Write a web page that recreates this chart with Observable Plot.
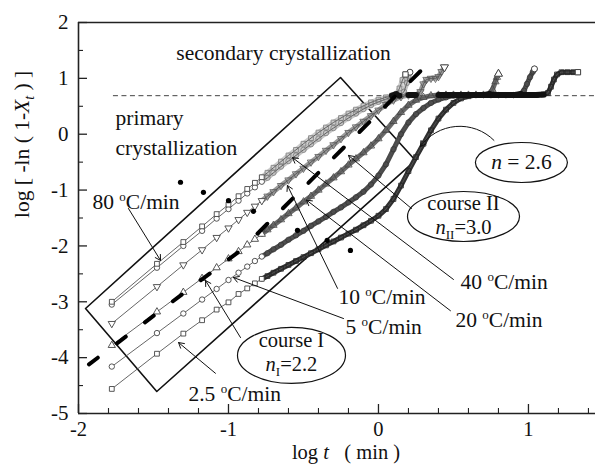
<!DOCTYPE html>
<html>
<head>
<meta charset="utf-8">
<script src="https://cdn.jsdelivr.net/npm/d3@7"></script>
<script src="https://cdn.jsdelivr.net/npm/@observablehq/plot@0.6"></script>
<style>
  body { margin: 0; background: #fff; }
  #chart svg { display: block; }
</style>
</head>
<body>
<div id="chart"></div>
<script>
// Avrami plots, log[-ln(1-Xt)] versus log t, one series per cooling rate (°C/min)
const rates = ["2.5", "5", "10", "20", "40", "80"];

const s2_5 = [[-1.778,-4.56],[-1.477,-3.93],[-1.301,-3.57],[-1.176,-3.33],[-1.079,-3.14],[-1.0,-3.01],[-0.933,-2.86],[-0.875,-2.76],[-0.824,-2.67],[-0.778,-2.59],
  [-0.74,-2.54],[-0.70,-2.48],[-0.65,-2.41],[-0.60,-2.34],[-0.55,-2.27],[-0.50,-2.20],[-0.45,-2.13],[-0.40,-2.06],[-0.35,-1.99],[-0.30,-1.92],[-0.25,-1.85],[-0.20,-1.78],[-0.15,-1.71],[-0.10,-1.63],[-0.05,-1.55],[0.0,-1.46],
  [0.05,-1.34],[0.10,-1.16],[0.15,-0.92],[0.20,-0.66],[0.25,-0.41],[0.30,-0.17],[0.35,0.07],[0.40,0.28],[0.45,0.44],[0.50,0.56],[0.55,0.64],[0.60,0.68],
  [0.65,0.70],[0.70,0.70],[0.75,0.70],[0.80,0.70],[0.85,0.70],[0.90,0.70],[0.95,0.70],[1.00,0.70],[1.05,0.70],[1.10,0.71],
  [1.13,0.74],[1.15,0.85],[1.17,0.98],[1.19,1.07],[1.22,1.11],[1.26,1.11],[1.30,1.11],[1.33,1.11]];

const s5 = [[-1.778,-4.16],[-1.477,-3.56],[-1.301,-3.21],[-1.176,-2.96],[-1.079,-2.77],[-1.0,-2.61],[-0.933,-2.48],[-0.875,-2.37],[-0.824,-2.27],[-0.778,-2.19],
  [-0.74,-2.13],[-0.70,-2.06],[-0.65,-1.98],[-0.60,-1.89],[-0.55,-1.81],[-0.50,-1.73],[-0.45,-1.64],[-0.40,-1.56],[-0.35,-1.48],[-0.30,-1.39],[-0.25,-1.31],[-0.20,-1.22],[-0.15,-1.13],[-0.10,-1.03],[-0.05,-0.90],
  [0.0,-0.74],[0.05,-0.54],[0.10,-0.27],[0.15,0.0],[0.20,0.21],[0.25,0.36],[0.30,0.47],[0.35,0.56],[0.40,0.62],[0.45,0.66],[0.50,0.69],
  [0.55,0.70],[0.60,0.70],[0.65,0.70],[0.70,0.70],[0.75,0.70],[0.80,0.70],[0.85,0.70],[0.90,0.70],[0.95,0.72],[0.97,0.78],[0.99,0.90],[1.01,1.02],[1.03,1.12],[1.04,1.17]];

const s10 = [[-1.778,-3.78],[-1.477,-3.18],[-1.301,-2.83],[-1.176,-2.58],[-1.079,-2.39],[-1.0,-2.23],[-0.933,-2.10],[-0.875,-1.98],[-0.824,-1.88],[-0.778,-1.79],
  [-0.74,-1.71],[-0.70,-1.63],[-0.65,-1.53],[-0.60,-1.42],[-0.55,-1.32],[-0.50,-1.21],[-0.45,-1.11],[-0.40,-1.00],[-0.35,-0.89],[-0.30,-0.78],[-0.25,-0.67],[-0.20,-0.55],[-0.15,-0.44],[-0.10,-0.33],[-0.05,-0.21],
  [0.0,-0.08],[0.05,0.07],[0.10,0.23],[0.15,0.39],[0.20,0.52],[0.25,0.61],[0.30,0.66],[0.35,0.69],
  [0.40,0.70],[0.45,0.70],[0.50,0.70],[0.55,0.70],[0.60,0.70],[0.65,0.70],[0.70,0.70],[0.74,0.72],[0.76,0.80],[0.78,0.94],[0.79,1.02],[0.80,1.08]];

const s20 = [[-1.778,-3.39],[-1.477,-2.73],[-1.301,-2.34],[-1.176,-2.07],[-1.079,-1.85],[-1.0,-1.68],[-0.933,-1.53],[-0.875,-1.40],[-0.824,-1.29],[-0.778,-1.19],
  [-0.74,-1.11],[-0.70,-1.03],[-0.65,-0.92],[-0.60,-0.82],[-0.55,-0.71],[-0.50,-0.61],[-0.45,-0.50],[-0.40,-0.40],[-0.35,-0.29],[-0.30,-0.19],[-0.25,-0.08],[-0.20,0.03],[-0.15,0.13],[-0.10,0.23],[-0.05,0.33],
  [0.0,0.43],[0.05,0.53],[0.10,0.61],[0.15,0.67],[0.20,0.70],[0.25,0.70],[0.28,0.76],[0.30,0.90],[0.32,0.98],[0.35,1.0],[0.38,1.0],[0.40,1.03],[0.42,1.12],[0.44,1.2]];

const s40 = [[-1.778,-3.05],[-1.477,-2.39],[-1.301,-2.00],[-1.176,-1.73],[-1.079,-1.51],[-1.0,-1.34],[-0.933,-1.19],[-0.875,-1.06],[-0.824,-0.95],[-0.778,-0.85],
  [-0.74,-0.78],[-0.70,-0.69],[-0.65,-0.58],[-0.60,-0.48],[-0.55,-0.38],[-0.50,-0.28],[-0.45,-0.18],[-0.40,-0.08],[-0.35,0.02],[-0.30,0.11],[-0.25,0.20],[-0.20,0.29],[-0.15,0.37],[-0.10,0.45],[-0.05,0.52],
  [0.0,0.58],[0.05,0.63],[0.10,0.67],[0.14,0.69],[0.17,0.76],[0.19,0.92],[0.20,1.04],[0.21,1.11]];

const s80 = [[-1.778,-3.0],[-1.477,-2.32],[-1.301,-1.93],[-1.176,-1.65],[-1.079,-1.43],[-1.0,-1.26],[-0.933,-1.11],[-0.875,-0.98],[-0.824,-0.87],[-0.778,-0.77],
  [-0.74,-0.69],[-0.70,-0.60],[-0.65,-0.49],[-0.60,-0.38],[-0.55,-0.28],[-0.50,-0.17],[-0.45,-0.07],[-0.40,0.03],[-0.35,0.12],[-0.30,0.21],[-0.25,0.29],[-0.20,0.37],[-0.15,0.44],[-0.10,0.51],[-0.05,0.57],
  [0.0,0.62],[0.05,0.66],[0.09,0.69],[0.12,0.72],[0.14,0.82],[0.16,0.97],[0.18,1.07]];

// log t where each run reaches the end-of-primary plateau
const plateauFrom = [0.62, 0.52, 0.37, 0.18, 0.12, 0.08];

// Avrami fit lines: course I (n = 2.2) and the n = 2.6 line
const fitCourseI = [[-1.93,-4.12],[-0.88,-2.0]];
const fitN26 = [[-0.807,-1.78],[0.37,1.37]];
// isolated points where the fitted ranges begin
const fitStarts = [[-1.32,-0.86],[-1.167,-1.04],[-1.0,-1.19],[-0.833,-1.38],[-0.54,-1.72],[-0.342,-1.90],[-0.187,-2.08]];

// axis ticks
const xMajor = [-2, -1, 0, 1];
const xMinor = [-1.8,-1.6,-1.4,-1.2,-0.8,-0.6,-0.4,-0.2,0.2,0.4,0.6,0.8,1.2,1.4];
const yMajor = [-5, -4, -3, -2, -1, 0, 1, 2];
const yMinor = [-4.5,-3.5,-2.5,-1.5,-0.5,0.5,1.5];
const plateauLevel = 0.69;

// custom symbols
const sqrt3 = Math.sqrt(3);
const triangleDown = {
  draw(c, size) {
    const y = -Math.sqrt(size / (sqrt3 * 3));
    c.moveTo(0, -y * 2);
    c.lineTo(-sqrt3 * y, y);
    c.lineTo(sqrt3 * y, y);
    c.closePath();
  }
};
function ellipse(rx, ry) {
  const k = 0.5523;
  return {
    draw(c) {
      c.moveTo(rx, 0);
      c.bezierCurveTo(rx, ry * k, rx * k, ry, 0, ry);
      c.bezierCurveTo(-rx * k, ry, -rx, ry * k, -rx, 0);
      c.bezierCurveTo(-rx, -ry * k, -rx * k, -ry, 0, -ry);
      c.bezierCurveTo(rx * k, -ry, rx, -ry * k, rx, 0);
      c.closePath();
    }
  };
}

const seriesData = [s2_5, s5, s10, s20, s40, s80];
const symbols = ["square", "circle", "triangle", triangleDown, "circle", "square"];
const bandColors = ["#303030", "#4a4a4a", "#6a6a6a", "#9a9a9a", "#c4c4c4", "#cccccc"];
const chainColors = ["#222", "#333", "#444", "#555", "#777", "#777"];

// pixel → data unit conversions for tick lengths
const pxX = 3.447 / 517, pxY = 7 / 391;
const serif = "Liberation Serif, Times New Roman, serif";

const marks = [];

// frame
marks.push(Plot.ruleY([2], {stroke: "#222", strokeWidth: 1.6}));
marks.push(Plot.ruleY([-5], {stroke: "#222", strokeWidth: 1.6}));
marks.push(Plot.ruleX([-2], {stroke: "#222", strokeWidth: 1.6}));

// inward ticks
marks.push(Plot.ruleX(xMajor, {x: d => d, y1: -5, y2: -5 + 9 * pxY, stroke: "#222", strokeWidth: 1.3}));
marks.push(Plot.ruleX(xMinor, {x: d => d, y1: -5, y2: -5 + 5 * pxY, stroke: "#222", strokeWidth: 1.1}));
marks.push(Plot.ruleY(yMajor, {y: d => d, x1: -2, x2: -2 + 9 * pxX, stroke: "#222", strokeWidth: 1.3}));
marks.push(Plot.ruleY(yMinor, {y: d => d, x1: -2, x2: -2 + 5 * pxX, stroke: "#222", strokeWidth: 1.1}));

// tick labels
marks.push(Plot.text(xMajor, {x: d => d, y: -5, dy: 16, text: d => String(d), fontSize: 20.5, fontFamily: serif, fill: "#111"}));
marks.push(Plot.text(yMajor, {x: -2, y: d => d, dx: -10, text: d => String(d), textAnchor: "end", fontSize: 21, fontFamily: serif, fill: "#111"}));

// plateau reference (dashed)
marks.push(Plot.ruleY([plateauLevel], {x1: -1.767, x2: 1.447, stroke: "#444", strokeWidth: 1, strokeDasharray: "5,3.5"}));

// crystallization-course box
marks.push(Plot.line([[-1.953,-3.12],[-1.478,-4.606],[0.247,-0.47],[-0.253,1.015],[-1.953,-3.12]],
  {x: "0", y: "1", stroke: "#111", strokeWidth: 1.6}));

// dense-region bands
seriesData.forEach((pts, i) => {
  marks.push(Plot.line(pts.filter(p => p[0] >= -0.79), {x: "0", y: "1", stroke: bandColors[i], strokeWidth: 5}));
});
// connecting lines
seriesData.forEach(pts => {
  marks.push(Plot.line(pts, {x: "0", y: "1", stroke: "#555", strokeWidth: 0.9}));
});
// markers
seriesData.forEach((pts, i) => {
  marks.push(Plot.dot(pts.filter(p => p[0] < -0.76), {x: "0", y: "1", symbol: symbols[i], r: 2.7, stroke: "#444", fill: "white", strokeWidth: 0.9}));
  marks.push(Plot.dot(pts.filter(p => p[0] >= -0.76), {x: "0", y: "1", symbol: symbols[i], r: 2.7, stroke: chainColors[i], fill: "none", strokeWidth: 0.8}));
});
// plateau sections
seriesData.forEach((pts, i) => {
  marks.push(Plot.line(pts.filter(p => p[0] >= plateauFrom[i] && p[1] <= 0.72), {x: "0", y: "1", stroke: "#111", strokeWidth: 6}));
});
// end markers
seriesData.forEach((pts, i) => {
  marks.push(Plot.dot([pts[pts.length - 1]], {x: "0", y: "1", symbol: symbols[i], r: 3, stroke: "#444", fill: "white", strokeWidth: 1}));
});

// Avrami fit lines and their start points
marks.push(Plot.line(fitCourseI, {x: "0", y: "1", stroke: "#000", strokeWidth: 4, strokeDasharray: "11,24"}));
marks.push(Plot.line(fitN26, {x: "0", y: "1", stroke: "#000", strokeWidth: 4, strokeDasharray: "14,22"}));
marks.push(Plot.dot(fitStarts, {x: "0", y: "1", r: 2.6, fill: "#000"}));

// annotation ellipses
marks.push(Plot.dot([0], {x: -0.58, y: -3.96, symbol: ellipse(54, 28), stroke: "#111", fill: "white", strokeWidth: 1.2}));
marks.push(Plot.dot([0], {x: 0.567, y: -1.473, symbol: ellipse(56, 25), stroke: "#111", fill: "white", strokeWidth: 1.2}));
marks.push(Plot.dot([0], {x: 0.953, y: -0.506, symbol: ellipse(46, 20), stroke: "#111", fill: "white", strokeWidth: 1.2}));

// label arrows
const arrowOpts = {stroke: "#111", strokeWidth: 1, headLength: 9, inset: 0};
marks.push(Plot.arrow([0], {x1: -1.667, y1: -1.33, x2: -1.453, y2: -2.26, ...arrowOpts}));
marks.push(Plot.arrow([0], {x1: -1.087, y1: -4.28, x2: -1.333, y2: -3.73, ...arrowOpts}));
marks.push(Plot.arrow([0], {x1: -0.92, y1: -3.64, x2: -1.153, y2: -2.62, ...arrowOpts}));
marks.push(Plot.arrow([0], {x1: -0.233, y1: -3.30, x2: -0.967, y2: -2.565, ...arrowOpts}));
marks.push(Plot.arrow([0], {x1: -0.273, y1: -2.76, x2: -0.607, y2: -0.918, ...arrowOpts}));
marks.push(Plot.arrow([0], {x1: 0.48, y1: -3.16, x2: -0.48, y2: -1.18, ...arrowOpts}));
marks.push(Plot.arrow([0], {x1: 0.50, y1: -2.60, x2: -0.573, y2: -0.42, ...arrowOpts}));
marks.push(Plot.arrow([0], {x1: 0.22, y1: -1.33, x2: -0.2, y2: -0.38, ...arrowOpts}));
marks.push(Plot.arrow([0], {x1: 0.77, y1: -0.11, x2: 0.28, y2: -0.22, bend: -50, ...arrowOpts}));

// text
const txt = {fontFamily: serif, fontSize: 21.5, fill: "#111"};
const txtSmall = {fontFamily: serif, fontSize: 20.5, fill: "#111"};
marks.push(Plot.text(["secondary crystallization"], {x: -0.633, y: 1.445, text: d => d, ...txt}));
marks.push(Plot.text(["primary"], {x: -1.753, y: 0.281, text: d => d, textAnchor: "start", ...txt}));
marks.push(Plot.text(["crystallization"], {x: -1.753, y: -0.256, text: d => d, textAnchor: "start", ...txt}));
marks.push(Plot.text(["80 oC/min"], {x: -1.907, y: -1.222, text: d => d, textAnchor: "start", ...txt}));
marks.push(Plot.text(["10 oC/min"], {x: -0.267, y: -2.923, text: d => d, textAnchor: "start", ...txt}));
marks.push(Plot.text(["5 oC/min"], {x: -0.22, y: -3.46, text: d => d, textAnchor: "start", ...txt}));
marks.push(Plot.text(["40 oC/min"], {x: 0.547, y: -2.655, text: d => d, textAnchor: "start", ...txt}));
marks.push(Plot.text(["20 oC/min"], {x: 0.513, y: -3.335, text: d => d, textAnchor: "start", ...txt}));
marks.push(Plot.text(["2.5 oC/min"], {x: -1.267, y: -4.66, text: d => d, textAnchor: "start", ...txt}));
marks.push(Plot.text(["course I"], {x: -0.58, y: -3.69, text: d => d, ...txtSmall}));
marks.push(Plot.text(["nI=2.2"], {x: -0.58, y: -4.13, text: d => d, ...txtSmall}));
marks.push(Plot.text(["course II"], {x: 0.567, y: -1.235, text: d => d, ...txtSmall}));
marks.push(Plot.text(["nII=3.0"], {x: 0.567, y: -1.665, text: d => d, ...txtSmall}));
marks.push(Plot.text(["n = 2.6"], {x: 0.953, y: -0.506, text: d => d, ...txt}));

// axis titles
marks.push(Plot.text(["log t  ( min )"], {frameAnchor: "bottom", dx: 9, dy: 45, text: d => d, fontFamily: serif, fontSize: 20.5, fill: "#111"}));
marks.push(Plot.text(["log [ -ln ( 1-Xt ) ]"], {frameAnchor: "left", dx: -56, rotate: -90, text: d => d, ...txt}));

const chart = Plot.plot({
  width: 595,
  height: 470,
  marginLeft: 78,
  marginRight: 0,
  marginTop: 22,
  marginBottom: 57,
  x: {domain: [-2, 1.447], axis: null},
  y: {domain: [-5, 2], axis: null},
  style: {background: "white", fontFamily: serif},
  marks
});

// italics, sub- and superscripts
const rich = {
  "nI=2.2": '<tspan font-style="italic">n</tspan><tspan dy="5" font-size="13">I</tspan><tspan dy="-5">=2.2</tspan>',
  "nII=3.0": '<tspan font-style="italic">n</tspan><tspan dy="5" font-size="13">II</tspan><tspan dy="-5">=3.0</tspan>',
  "n = 2.6": '<tspan font-style="italic">n</tspan> = 2.6',
  "log t  ( min )": 'log <tspan font-style="italic">t</tspan>\u00a0\u00a0\u00a0( min )',
  "log [ -ln ( 1-Xt ) ]": 'log [ -ln ( 1-<tspan font-style="italic">X</tspan><tspan dy="5" font-size="14" font-style="italic">t</tspan><tspan dy="-5"> ) ]</tspan>'
};
chart.querySelectorAll("text").forEach(t => {
  const s = t.textContent;
  if (rich[s]) { t.innerHTML = rich[s]; return; }
  const m = s.match(/^(\S+) oC\/min$/);
  if (m) t.innerHTML = `${m[1]} <tspan dy="-8" font-size="13">o</tspan><tspan dy="8">C/min</tspan>`;
});

document.getElementById("chart").append(chart);
</script>
</body>
</html>
